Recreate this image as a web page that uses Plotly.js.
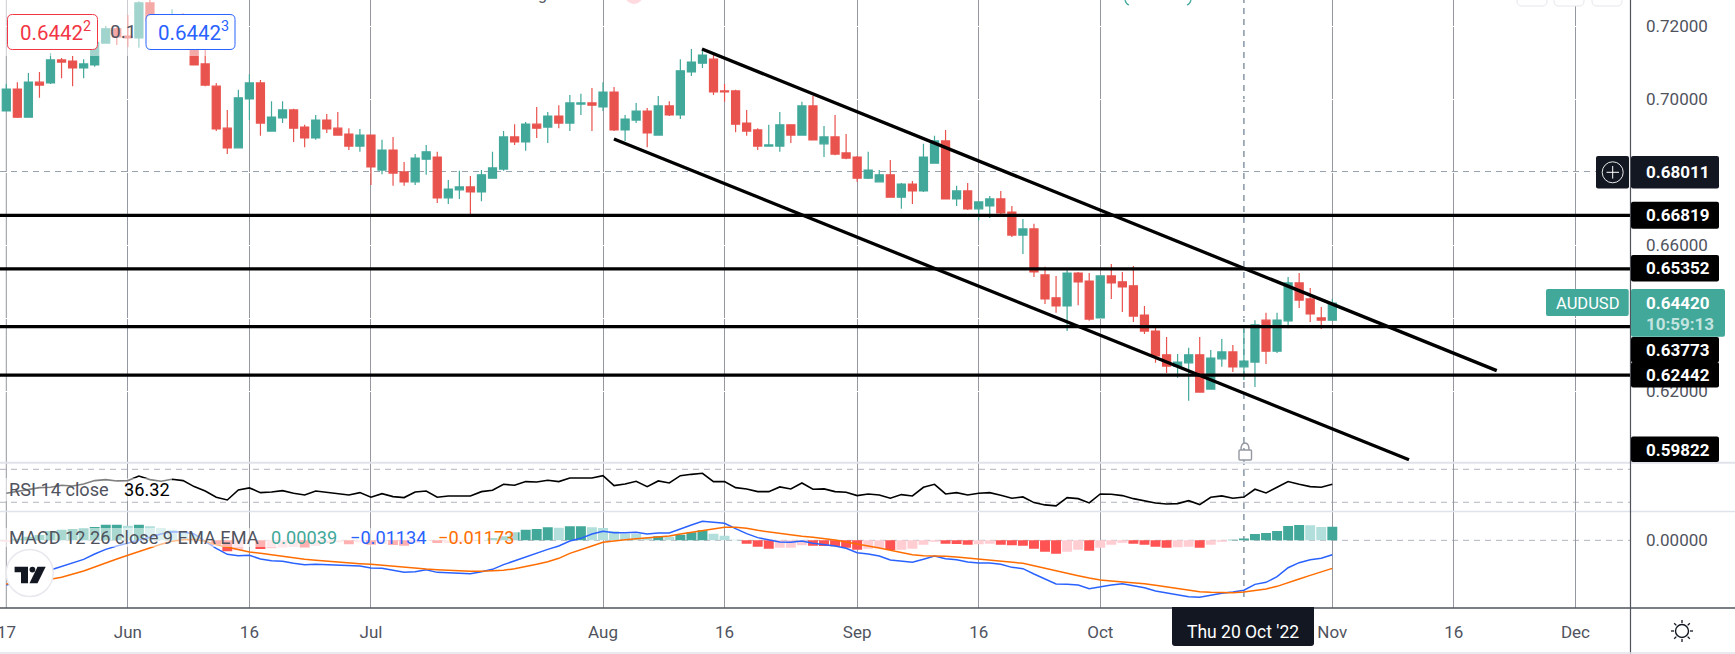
<!DOCTYPE html>
<html><head><meta charset="utf-8">
<script src="https://cdn.plot.ly/plotly-3.0.1.min.js"></script>
<style>html,body{margin:0;padding:0;background:#fff}#c{width:1735px;height:654px}</style></head>
<body><div id="c"></div>
<script>
const open=[.6968,.7028,.6951,.7047,.7045,.7108,.7105,.7086,.7094,.7154,
.7193,.7173,.7168,.7264,.7217,.7206,.7231,.7181,.7097,.7036,
.6921,.6867,.7001,.7045,.6913,.6949,.6971,.6924,.6894,.6943,
.6921,.6905,.6872,.6902,.6806,.6861,.6801,.6774,.6836,.6842,
.6730,.6752,.6760,.6746,.6784,.6809,.6897,.6883,.6932,.6924,
.6954,.6935,.6987,.6990,.6979,.7020,.6916,.6943,.6968,.6902,
.6982,.6957,.7075,.7099,.7110,.7023,.7023,.6935,.6916,.6872,
.6872,.6930,.6902,.6982,.6878,.6897,.6853,.6842,.6784,.6774,
.6793,.6732,.6768,.6749,.6825,.6886,.6727,.6749,.6700,.6708,
.6727,.6691,.6628,.6645,.6519,.6456,.6434,.6524,.6502,.6401,
.6516,.6500,.6489,.6409,.6365,.6300,.6269,.6278,.6300,.6206,
.6289,.6308,.6267,.6280,.6395,.6310,.6393,.6497,.6453,.6401,
.6395];
const close=[.7028,.6951,.7047,.7039,.7108,.7102,.7086,.7097,.7156,.7193,
.7171,.7168,.7264,.7217,.7206,.7231,.7181,.7094,.7039,.6919,
.6867,.7004,.7045,.6935,.6951,.6971,.6921,.6894,.6943,.6919,
.6902,.6872,.6902,.6815,.6861,.6798,.6774,.6839,.6856,.6730,
.6754,.6760,.6746,.6793,.6812,.6897,.6883,.6932,.6921,.6954,
.6935,.6990,.6990,.6984,.7020,.6916,.6946,.6968,.6908,.6982,
.6957,.7078,.7102,.7121,.7020,.7020,.6932,.6913,.6872,.6875,
.6930,.6902,.6982,.6889,.6897,.6850,.6839,.6784,.6806,.6793,
.6732,.6768,.6749,.6842,.6886,.6727,.6749,.6700,.6719,.6727,
.6689,.6628,.6645,.6527,.6453,.6434,.6524,.6500,.6398,.6516,
.6497,.6486,.6406,.6365,.6297,.6269,.6280,.6300,.6198,.6291,
.6308,.6267,.6283,.6382,.6310,.6395,.6497,.6450,.6412,.6395,
.6442];
const high=[.7042,.7047,.7072,.7075,.7127,.7113,.7119,.7110,.7158,.7201,
.7199,.7231,.7269,.7278,.7231,.7247,.7236,.7190,.7135,.7045,
.6971,.7026,.7069,.7053,.6995,.6995,.6974,.6930,.6957,.6960,
.6965,.6921,.6919,.6902,.6889,.6897,.6828,.6850,.6875,.6856,
.6779,.6804,.6790,.6806,.6856,.6913,.6932,.6938,.6979,.6965,
.6984,.7012,.7015,.7031,.7047,.7034,.6957,.6990,.6976,.7009,
.6995,.7110,.7138,.7135,.7124,.7042,.7026,.6971,.6921,.6930,
.6965,.6932,.6993,.7009,.6927,.6957,.6905,.6845,.6856,.6806,
.6834,.6771,.6776,.6878,.6900,.6916,.6763,.6771,.6719,.6735,
.6749,.6708,.6672,.6659,.6541,.6516,.6532,.6527,.6524,.6516,
.6549,.6527,.6543,.6434,.6382,.6349,.6302,.6319,.6349,.6313,
.6343,.6327,.6371,.6395,.6415,.6415,.6513,.6524,.6483,.6431,
.6453];
const low=[.6968,.6949,.6951,.7004,.7042,.7058,.7036,.7058,.7089,.7152,
.7149,.7143,.7141,.7204,.7190,.7190,.7167,.7094,.7036,.6913,
.6850,.6867,.6943,.6900,.6913,.6935,.6883,.6869,.6889,.6908,
.6902,.6861,.6856,.6765,.6795,.6763,.6763,.6765,.6793,.6716,
.6713,.6727,.6683,.6721,.6784,.6804,.6875,.6859,.6894,.6880,
.6921,.6913,.6957,.6913,.6968,.6913,.6886,.6935,.6869,.6900,
.6954,.6946,.7064,.7086,.7012,.6993,.6910,.6900,.6861,.6872,
.6856,.6880,.6902,.6889,.6842,.6847,.6836,.6774,.6782,.6774,
.6730,.6700,.6713,.6746,.6825,.6727,.6708,.6697,.6669,.6675,
.6678,.6623,.6576,.6513,.6439,.6415,.6365,.6436,.6393,.6401,
.6453,.6417,.6390,.6357,.6278,.6250,.6237,.6174,.6198,.6206,
.6267,.6253,.6231,.6212,.6275,.6305,.6373,.6428,.6390,.6371,
.6395];
const rsi=[40.9,42.9,45.0,47.8,48.2,50.6,49.8,52.2,56.3,57.5,55.9,56.3,61.9,57.5,55.5,57.9,56.3,49.0,43.7,36.1,
32.8,45.0,47.4,41.7,42.5,44.1,40.9,38.9,43.7,42.1,40.9,38.9,41.7,36.1,40.5,36.9,35.7,42.5,43.7,36.1,
37.7,38.1,37.7,42.9,44.5,51.8,50.6,55.1,54.6,56.7,55.1,59.5,59.5,59.5,62.3,50.2,52.2,55.5,49.0,55.9,
53.4,62.3,63.9,65.2,55.1,55.1,47.8,46.2,42.9,42.9,48.6,46.2,53.4,45.8,46.2,42.9,42.1,38.1,40.1,38.9,
34.9,39.3,37.7,48.2,51.8,40.1,41.7,38.9,40.9,41.7,38.5,34.9,36.5,29.6,26.8,25.6,35.7,34.4,29.2,40.1,
39.7,38.1,34.4,32.0,29.2,28.0,28.4,32.0,27.2,36.1,37.7,34.9,36.3,45.8,41.3,48.2,55.1,51.8,49.0,48.2,51.8];
const macd=[-.01016,-.00940,-.00864,-.00788,-.00675,-.00599,-.00523,-.00432,-.00311,-.00205,-.00129,-.00068,-.00008,.00068,.00144,.00197,.00190,.00144,-.00023,-.00182,
-.00318,-.00349,-.00341,-.00424,-.00462,-.00478,-.00523,-.00553,-.00546,-.00553,-.00561,-.00576,-.00584,-.00629,-.00637,-.00682,-.00728,-.00713,-.00667,-.00728,
-.00743,-.00750,-.00758,-.00713,-.00659,-.00553,-.00462,-.00371,-.00296,-.00205,-.00129,-.00015,.00045,.00144,.00205,.00174,.00174,.00182,.00144,.00167,
.00167,.00265,.00349,.00432,.00409,.00387,.00265,.00152,.00061,.00015,-.00038,-.00045,-.00015,-.00068,-.00099,-.00129,-.00182,-.00280,-.00311,-.00356,
-.00447,-.00478,-.00500,-.00432,-.00356,-.00417,-.00440,-.00493,-.00515,-.00515,-.00546,-.00614,-.00644,-.00766,-.00879,-.00993,-.01001,-.01016,-.01099,-.01054,
-.01016,-.00985,-.01023,-.01076,-.01152,-.01198,-.01236,-.01281,-.01296,-.01243,-.01205,-.01175,-.01134,-.01001,-.00955,-.00826,-.00622,-.00508,-.00440,-.00409,-.00326];
const signal=[-.00993,-.00978,-.00948,-.00910,-.00887,-.00841,-.00773,-.00697,-.00606,-.00508,-.00424,-.00341,-.00258,-.00167,-.00091,-.00023,.00015,.00023,-.00023,-.00099,
-.00159,-.00220,-.00265,-.00296,-.00334,-.00364,-.00394,-.00432,-.00455,-.00478,-.00500,-.00515,-.00531,-.00546,-.00569,-.00584,-.00606,-.00629,-.00652,-.00667,
-.00682,-.00697,-.00705,-.00705,-.00697,-.00682,-.00644,-.00599,-.00546,-.00485,-.00409,-.00296,-.00220,-.00129,-.00045,-.00008,.00015,.00038,.00053,.00076,
.00099,.00144,.00182,.00227,.00265,.00296,.00296,.00273,.00227,.00190,.00152,.00114,.00091,.00068,.00045,.00008,-.00038,-.00091,-.00129,-.00174,
-.00227,-.00273,-.00326,-.00349,-.00349,-.00364,-.00379,-.00402,-.00424,-.00440,-.00470,-.00493,-.00523,-.00576,-.00637,-.00697,-.00750,-.00803,-.00857,-.00902,
-.00925,-.00940,-.00963,-.00985,-.01023,-.01061,-.01107,-.01145,-.01167,-.01182,-.01190,-.01190,-.01173,-.01145,-.01107,-.01046,-.00970,-.00879,-.00796,-.00720,-.00637];
const hist=[-.00038,.00038,.00083,.00121,.00212,.00243,.00258,.00273,.00303,.00356,.00356,.00334,.00356,.00318,.00280,.00243,.00182,.00129,.00008,-.00099,
-.00250,-.00227,-.00008,-.00197,-.00182,-.00159,-.00152,-.00159,-.00129,-.00068,-.00045,-.00091,-.00045,-.00099,-.00083,-.00106,-.00121,-.00061,-.00008,-.00061,
-.00061,-.00045,-.00008,0,.00053,.00091,.00182,.00243,.00258,.00296,.00288,.00318,.00318,.00296,.00280,.00205,.00152,.00144,.00053,.00091,
.00083,.00129,.00182,.00227,.00152,.00106,.00015,-.00076,-.00144,-.00190,-.00167,-.00167,-.00114,-.00121,-.00129,-.00136,-.00167,-.00212,-.00190,-.00182,
-.00220,-.00212,-.00190,-.00099,-.00030,-.00076,-.00083,-.00099,-.00091,-.00076,-.00099,-.00114,-.00121,-.00190,-.00258,-.00303,-.00258,-.00212,-.00235,-.00167,
-.00099,-.00053,-.00076,-.00099,-.00144,-.00167,-.00159,-.00144,-.00167,-.00099,-.00030,.00015,.00039,.00144,.00167,.00212,.00326,.00349,.00341,.00303,.00311];
const levels=[.66819,.65352,.63773,.62442];
const upperChannel={x:[62.96,134.88],y:[.71378,.62567]};
const lowerChannel={x:[54.99,126.94],y:[.68912,.60123]};
const crossBar=112, crossPrice=.68011;
const firstTickBar=0, firstTickLabel='17';
const dateTicks=[11,22,33,54,65,77,88,99,120,131,142];
const dateLabels=['Jun','16','Jul','Aug','16','Sep','16','Oct','Nov','16','Dec'];
const priceTicks=[.72,.70,.68,.66,.64,.62];

const W=1630,H=608;
const UP='#41a89a',DN='#e9534e',TXT='#50535e',DARK='#131722';
const fx=p=>p/W, fy=p=>1-p/H;
const idx=open.map((_,i)=>i);
const histColor=hist.map((h,i)=>{const prev=i?hist[i-1]:h;
  return h>=0?(h>=prev?'#41a89a':'#b2dfdb'):(h<prev?'#ff5252':'#ffcdd2');});

const traces=[
 {type:'candlestick',x:idx,open,high,low,close,xaxis:'x',yaxis:'y',whiskerwidth:0,
  increasing:{line:{color:UP,width:1.2},fillcolor:UP},decreasing:{line:{color:DN,width:1.2},fillcolor:DN},hoverinfo:'skip'},
 ...levels.map(v=>({type:'scatter',mode:'lines',x:[-2,148],y:[v,v],line:{color:'#000',width:3.3},xaxis:'x',yaxis:'y',hoverinfo:'skip'})),
 {type:'scatter',mode:'lines',x:upperChannel.x,y:upperChannel.y,line:{color:'#000',width:3.3},xaxis:'x',yaxis:'y',hoverinfo:'skip'},
 {type:'scatter',mode:'lines',x:lowerChannel.x,y:lowerChannel.y,line:{color:'#000',width:3.3},xaxis:'x',yaxis:'y',hoverinfo:'skip'},
 {type:'scatter',mode:'lines',x:idx,y:rsi,line:{color:'#000',width:1.6},xaxis:'x',yaxis:'y2',hoverinfo:'skip'},
 {type:'bar',x:idx,y:hist,marker:{color:histColor,line:{width:0}},width:.9,xaxis:'x',yaxis:'y3',hoverinfo:'skip'},
 {type:'scatter',mode:'lines',x:idx,y:macd,line:{color:'#2962ff',width:1.5},xaxis:'x',yaxis:'y3',hoverinfo:'skip'},
 {type:'scatter',mode:'lines',x:idx,y:signal,line:{color:'#ff6d00',width:1.5},xaxis:'x',yaxis:'y3',hoverinfo:'skip'}
];

function rr(x0,y0,x1,y1,r){
 const X=fx,Y=fy;
 return `M${X(x0+r)},${Y(y0)} L${X(x1-r)},${Y(y0)} Q${X(x1)},${Y(y0)} ${X(x1)},${Y(y0+r)} L${X(x1)},${Y(y1-r)} Q${X(x1)},${Y(y1)} ${X(x1-r)},${Y(y1)} L${X(x0+r)},${Y(y1)} Q${X(x0)},${Y(y1)} ${X(x0)},${Y(y1-r)} L${X(x0)},${Y(y0+r)} Q${X(x0)},${Y(y0)} ${X(x0+r)},${Y(y0)} Z`;
}
const P=(pts)=>pts.map((q,i)=>(i?'L':'M')+fx(q[0])+','+fy(q[1])).join(' ')+' Z';
function box(x0,y0,x1,y1,r,fill,line,lw){
 return {type:'path',xref:'paper',yref:'paper',path:rr(x0,y0,x1,y1,r),fillcolor:fill,line:{color:line||fill,width:line?(lw||1):0},layer:'above'};
}
function seg(x0,y0,x1,y1,color,w,dash){
 return {type:'line',xref:'paper',yref:'paper',x0:fx(x0),x1:fx(x1),y0:fy(y0),y1:fy(y1),line:{color,width:w,dash:dash||'solid'},layer:'above'};
}
const sunRays=[];
for(let a=0;a<8;a++){const t=a*Math.PI/4;
 sunRays.push(seg(1682+Math.cos(t)*8,631+Math.sin(t)*8,1682+Math.cos(t)*11,631+Math.sin(t)*11,DARK,1.3));}
const circ=(cx,cy,r,fill,line,lw)=>({type:'circle',xref:'paper',yref:'paper',x0:fx(cx-r),x1:fx(cx+r),y0:fy(cy-r),y1:fy(cy+r),fillcolor:fill,line:{color:line,width:lw},layer:'above'});

const shapes=[
 {type:'line',xref:'x',yref:'paper',x0:firstTickBar,x1:firstTickBar,y0:0,y1:1,line:{color:'#9598a1',width:1},layer:'below'},
 {type:'line',xref:'x',yref:'paper',x0:crossBar,x1:crossBar,y0:0,y1:1,line:{color:'#758696',width:1.3,dash:'6px,5px'},layer:'below'},
 {type:'line',xref:'paper',yref:'y',x0:0,x1:fx(1597),y0:crossPrice,y1:crossPrice,line:{color:'#758696',width:1.2,dash:'6px,5px'},layer:'below'},
 {type:'line',xref:'paper',yref:'y2',x0:0,x1:1,y0:70,y1:70,line:{color:'#b2b5be',width:1,dash:'6px,5px'},layer:'below'},
 {type:'line',xref:'paper',yref:'y2',x0:0,x1:1,y0:30,y1:30,line:{color:'#b2b5be',width:1,dash:'6px,5px'},layer:'below'},
 {type:'line',xref:'paper',yref:'y3',x0:0,x1:1,y0:0,y1:0,line:{color:'#b2b5be',width:1,dash:'6px,5px'},layer:'below'},
 seg(0,462.7,1735,462.7,'#e0e3eb',2),
 seg(0,511.6,1735,511.6,'#e0e3eb',1.5),
 seg(1630.5,0,1630.5,654,TXT,1.2),
 seg(0,608,1735,608,TXT,1.5),
 seg(0,653,1735,653,'#e0e3eb',1.5),
 {type:'rect',xref:'paper',yref:'paper',x0:0,x1:fx(240),y0:fy(56),y1:1,fillcolor:'rgba(255,255,255,0.5)',line:{width:0},layer:'above'},
 box(7.5,14.5,97.5,49.5,5,'#ffffff','#f23645',1),
 box(146,14.5,235,49.5,5,'#ffffff','#2962ff',1),
 {type:'rect',xref:'paper',yref:'paper',x0:0,x1:fx(172),y0:fy(501),y1:fy(478),fillcolor:'rgba(255,255,255,0.5)',line:{width:0},layer:'above'},
 {type:'rect',xref:'paper',yref:'paper',x0:0,x1:fx(518),y0:fy(547),y1:fy(528),fillcolor:'rgba(255,255,255,0.55)',line:{width:0},layer:'above'},
 circ(29.7,573,23.5,'#ffffff','#e8e8ee',1.5),
 {type:'path',xref:'paper',yref:'paper',path:P([[14.6,566.7],[28,566.7],[28,583.3],[21,583.3],[21,572.2],[14.6,572.2]]),fillcolor:DARK,line:{width:0},layer:'above'},
 circ(32.4,569.6,2.9,DARK,DARK,0),
 {type:'path',xref:'paper',yref:'paper',path:P([[37.5,566.7],[45.7,566.7],[37.5,583.3],[29.5,583.3]]),fillcolor:DARK,line:{width:0},layer:'above'},
 {type:'path',xref:'paper',yref:'paper',path:`M${fx(1241)},${fy(450)} Q${fx(1241)},${fy(443)} ${fx(1245)},${fy(443)} Q${fx(1249)},${fy(443)} ${fx(1249)},${fy(450)}`,line:{color:'#9598a1',width:1.4},layer:'above'},
 box(1239,450,1251.5,460,1,'#ffffff','#9598a1',1.4),
 box(1596,156,1629,188.5,2,DARK),
 box(1631,156,1719,188.5,2,DARK),
 circ(1612.7,172.3,10.5,DARK,'#ffffff',.9),
 seg(1606.5,172.3,1619,172.3,'#ffffff',1),
 seg(1612.7,166,1612.7,178.6,'#ffffff',1),
 box(1631,201.7,1719,228.7,2,'#000000'),
 box(1631,255,1719,281.4,2,'#000000'),
 box(1546,289,1628.7,316,2,UP),
 box(1631,289,1725,336.7,2,UP),
 box(1631,337,1719,362.5,2,'#000000'),
 box(1631,362,1719,387.5,2,'#000000'),
 box(1631,436.4,1719,462,2,'#000000'),
 box(1172,600,1314,646,3,DARK),
 {type:'rect',xref:'paper',yref:'paper',x0:fx(1172),x1:fx(1314),y0:fy(609),y1:fy(600),fillcolor:'#ffffff',line:{width:0},layer:'above'},
 seg(1172,608,1314,608,DARK,2),
 box(1517,-12,1547,6,5,'#ffffff','#e6e6ee',1),
 box(1554,-12,1584,6,5,'#ffffff','#e6e6ee',1),
 box(1592,-12,1622,6,5,'#ffffff','#e6e6ee',1),
 circ(634,-5,9,'#ffdbe0','#ffdbe0',0),
 {type:'path',xref:'paper',yref:'paper',path:`M${fx(1125)},${fy(0)} Q${fx(1126)},${fy(4)} ${fx(1129)},${fy(5)}`,line:{color:UP,width:1.2},layer:'above'},
 {type:'path',xref:'paper',yref:'paper',path:`M${fx(1191)},${fy(0)} Q${fx(1190)},${fy(4)} ${fx(1187)},${fy(5)}`,line:{color:UP,width:1.2},layer:'above'},
 circ(1682,631,6.5,'#ffffff',DARK,1.4),
 ...sunRays
];

function L(x,y,text,color,size,anchor,opt){
 return Object.assign({xref:'paper',yref:'paper',x:fx(x),y:fy(y),text,showarrow:false,xanchor:anchor||'left',yanchor:'middle',
  font:{family:'Roboto, sans-serif',size:size||16,color:color||TXT},borderpad:0,borderwidth:0},opt||{});
}
const annotations=[
 L(20,32,'0.6442<sup>2</sup>','#f23645',20.5),
 L(110,32,'0.1',TXT,19),
 L(158,32,'0.6442<sup>3</sup>','#2962ff',20.5),
 L(8.5,489,'RSI 14 close',TXT,18.2),
 L(124,489,'36.32','#000',18.2),
 L(8.5,537,'MACD 12 26 close 9 EMA EMA',TXT,18.2),
 L(271,537,'0.00039',UP,18.2),
 L(350,537,'\u22120.01134','#2962ff',18.2),
 L(438,537,'\u22120.01173','#ff6d00',18.2),
 L(1645.5,172.3,'<b>0.68011</b>','#fff',17),
 L(1645.5,215.2,'<b>0.66819</b>','#fff',17),
 L(1645.5,268.2,'<b>0.65352</b>','#fff',17),
 L(1587.5,303,'AUDUSD','#fff',16.5,'center'),
 L(1645.5,303,'<b>0.64420</b>','#fff',17),
 L(1645.5,323.5,'<b>10:59:13</b>','rgba(255,255,255,0.7)',17),
 L(1645.5,350,'<b>0.63773</b>','#fff',17),
 L(1645.5,375,'<b>0.62442</b>','#fff',17),
 L(1645.5,449.5,'<b>0.59822</b>','#fff',17),
 L(1243,632,"Thu 20 Oct '22",'#fff',17.5,'center'),
 L(6,632,firstTickLabel,TXT,17,'center'),
 L(542,-5,'g',TXT,16,'center')
];

const axisFont={family:'Roboto, sans-serif',size:17,color:TXT};
const layout={
 width:1735,height:654,margin:{l:0,r:105,t:0,b:46,pad:0},
 paper_bgcolor:'#fff',plot_bgcolor:'#fff',showlegend:false,boxmode:'overlay',boxgap:.27,boxgroupgap:0,barmode:'overlay',hovermode:false,
 xaxis:{domain:[0,1],range:[-.57,146.94],anchor:'y3',tickmode:'array',tickvals:dateTicks,ticktext:dateLabels,
  rangeslider:{visible:false},showgrid:true,gridcolor:'#9598a1',gridwidth:1,zeroline:false,showline:false,ticks:'',
  tickfont:axisFont,ticklabelstandoff:12},
 yaxis:{domain:[1-462.7/H,1],range:[.60044,.72721],side:'right',anchor:'x',tickmode:'array',tickvals:priceTicks,
  ticktext:priceTicks.map(v=>v.toFixed(5)),showgrid:true,gridcolor:'#ffffff',gridwidth:1,zeroline:false,showline:false,ticks:'',
  tickfont:axisFont,ticklabelstandoff:15},
 yaxis2:{domain:[1-511.6/H,1-462.7/H],range:[18.7,78],side:'right',anchor:'x',tickmode:'array',tickvals:[],showgrid:false,zeroline:false,showline:false,ticks:''},
 yaxis3:{domain:[0,1-511.6/H],range:[-.01538,.00653],side:'right',anchor:'x',tickmode:'array',tickvals:[0],ticktext:['0.00000'],
  showgrid:false,zeroline:false,showline:false,ticks:'',tickfont:axisFont,ticklabelstandoff:15},
 shapes,annotations
};
Plotly.newPlot('c',traces,layout,{staticPlot:true,displayModeBar:false,responsive:false});
</script></body></html>
